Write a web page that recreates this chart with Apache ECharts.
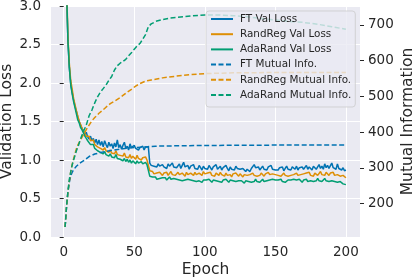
<!DOCTYPE html>
<html><head><meta charset="utf-8">
<script src="https://cdn.jsdelivr.net/npm/echarts@6/dist/echarts.min.js"></script>
<style>html,body{margin:0;padding:0;background:#fff}#c{width:415px;height:279px}</style>
</head><body><div id="c"></div>
<script>
const seriesNames = ['FT Val Loss','RandReg Val Loss','AdaRand Val Loss','FT Mutual Info.','RandReg Mutual Info.','AdaRand Mutual Info.'];
const xTicks = [0, 50, 100, 150, 200];
const miTicks = [200, 300, 400, 500, 600, 700];

const ftLoss = [4.8,3.2,2.55,2.2,1.98,1.88,1.78,1.7,1.63,1.56,
1.5,1.45,1.41,1.38,1.33,1.36,1.3,1.27,1.31,1.25,
1.28,1.22,1.27,1.2,1.26,1.19,1.24,1.17,1.25,1.2,
1.16,1.23,1.18,1.21,1.15,1.22,1.17,1.26,1.16,1.2,
1.14,1.19,1.23,1.15,1.18,1.13,1.21,1.16,1.14,1.19,
1.15,1.17,1.13,1.16,1.14,1.18,1.13,1.17,1.15,1.17,
0.96,0.93,0.95,0.92,0.94,0.91,0.95,0.92,0.9,0.94,
0.91,0.93,0.89,0.95,0.92,0.9,0.96,0.91,0.93,0.9,
0.92,0.95,0.89,0.93,0.97,0.91,0.9,0.93,0.88,0.92,
0.9,0.94,0.89,0.91,0.88,0.93,0.9,0.87,0.92,0.89,
0.91,0.88,0.93,0.9,0.87,0.91,0.89,0.94,0.88,0.9,
0.92,0.87,0.9,0.88,0.93,0.89,0.86,0.91,0.88,0.9,
0.87,0.92,0.89,0.9,0.88,0.86,0.89,0.87,0.85,0.88,
0.86,0.85,0.89,0.91,0.94,0.9,0.88,0.91,0.87,0.89,
0.92,0.88,0.9,0.87,0.91,0.89,0.93,0.88,0.9,0.87,
0.89,0.87,0.9,0.88,0.91,0.86,0.89,0.92,0.88,0.9,
0.87,0.91,0.89,0.88,0.92,0.87,0.9,0.89,0.91,0.88,
0.9,0.93,0.88,0.91,0.89,0.87,0.92,0.9,0.88,0.91,
0.94,0.89,0.92,0.88,0.95,0.9,0.93,0.89,0.91,0.96,
0.9,0.92,0.88,0.95,0.89,0.91,0.87,0.9,0.86,0.87];

const randRegLoss = [4.8,3.3,2.6,2.25,2.03,1.92,1.8,1.72,1.64,1.57,
1.5,1.46,1.41,1.37,1.35,1.31,1.29,1.31,1.25,1.23,
1.26,1.2,1.21,1.17,1.19,1.15,1.17,1.13,1.16,1.12,
1.14,1.1,1.13,1.09,1.11,1.08,1.12,1.07,1.09,1.06,
1.08,1.05,1.09,1.04,1.06,1.03,1.07,1.02,1.05,1.03,
1.01,1.06,1.02,1.04,1.0,1.03,1.01,1.04,1.0,1.02,
0.86,0.84,0.85,0.82,0.84,0.83,0.81,0.84,0.82,0.8,
0.83,0.81,0.84,0.8,0.82,0.85,0.81,0.83,0.8,0.82,
0.84,0.81,0.8,0.83,0.82,0.79,0.84,0.81,0.8,0.83,
0.82,0.8,0.84,0.81,0.79,0.83,0.81,0.8,0.85,0.82,
0.8,0.83,0.81,0.84,0.8,0.82,0.79,0.83,0.81,0.8,
0.84,0.81,0.82,0.79,0.83,0.8,0.82,0.81,0.78,0.82,
0.8,0.83,0.81,0.79,0.82,0.8,0.78,0.81,0.79,0.8,
0.78,0.81,0.79,0.83,0.8,0.82,0.79,0.81,0.8,0.83,
0.81,0.79,0.82,0.8,0.84,0.81,0.79,0.82,0.8,0.81,
0.83,0.8,0.82,0.79,0.81,0.83,0.8,0.82,0.79,0.81,
0.8,0.82,0.81,0.79,0.83,0.8,0.82,0.81,0.79,0.82,
0.8,0.83,0.81,0.84,0.8,0.82,0.79,0.83,0.81,0.8,
0.82,0.85,0.81,0.83,0.8,0.84,0.82,0.8,0.83,0.81,
0.84,0.8,0.82,0.81,0.83,0.79,0.81,0.8,0.78,0.77];

const adaRandLoss = [4.8,3.25,2.55,2.2,1.98,1.86,1.76,1.68,1.6,1.52,
1.48,1.42,1.39,1.35,1.31,1.28,1.25,1.23,1.2,1.18,
1.2,1.15,1.16,1.12,1.14,1.1,1.12,1.08,1.11,1.07,
1.09,1.05,1.08,1.04,1.06,1.03,1.07,1.02,1.04,1.01,
1.03,0.99,1.02,0.98,1.01,0.97,1.0,0.96,0.99,0.97,
0.95,0.99,0.96,0.94,0.98,0.95,0.93,0.97,0.94,0.96,
0.79,0.77,0.78,0.76,0.78,0.75,0.77,0.76,0.74,0.77,
0.75,0.77,0.74,0.76,0.78,0.75,0.73,0.76,0.74,0.75,
0.77,0.74,0.76,0.73,0.75,0.74,0.72,0.75,0.73,0.74,
0.76,0.73,0.75,0.72,0.74,0.73,0.75,0.71,0.74,0.72,
0.74,0.72,0.75,0.73,0.71,0.74,0.72,0.73,0.75,0.72,
0.73,0.71,0.74,0.72,0.75,0.73,0.71,0.74,0.72,0.73,
0.74,0.72,0.7,0.73,0.71,0.73,0.72,0.7,0.73,0.71,
0.72,0.74,0.71,0.73,0.72,0.75,0.72,0.74,0.71,0.73,
0.75,0.72,0.74,0.73,0.71,0.74,0.72,0.75,0.73,0.74,
0.72,0.74,0.73,0.75,0.72,0.74,0.71,0.73,0.74,0.72,
0.74,0.72,0.75,0.73,0.74,0.72,0.75,0.73,0.71,0.74,
0.73,0.75,0.72,0.74,0.73,0.75,0.72,0.74,0.73,0.76,
0.73,0.75,0.72,0.74,0.76,0.73,0.75,0.72,0.74,0.73,
0.75,0.72,0.74,0.71,0.73,0.72,0.7,0.69,0.71,0.68];

const ftMI = [[1,135],[2,190],[3,232],[4,260],[5,278],[6,288],[7,295],[8,300],[9,305],[10,309],[12,315],[15,323],[18,332],[22,339],[28,345],[35,350],[42,354],[50,357],[58,359],[65,361],[80,362],[100,363],[150,364],[200,364]];
const randRegMI = [[1,135],[2,192],[3,233],[4,263],[5,290],[6,310],[7,325],[8,340],[9,354],[10,364],[12,379],[14,393],[16,407],[18,420],[20,432],[22,441],[25,453],[28,463],[30,470],[33,480],[36,487],[40,497],[42,503],[45,512],[48,520],[51,529],[54,536],[58,543],[62,546],[66,549],[70,552],[80,557],[90,561],[100,564],[120,566],[150,567],[200,567]];
const adaRandMI = [[1,135],[2,192],[3,235],[4,268],[5,290],[6,308],[7,322],[8,335],[9,348],[10,358],[12,382],[14,402],[16,420],[18,446],[20,462],[22,482],[24,499],[26,512],[28,522],[30,532],[32,545],[34,556],[36,574],[38,586],[40,593],[42,598],[44,604],[46,614],[48,622],[50,632],[52,641],[54,648],[56,660],[58,673],[60,695],[62,703],[64,707],[66,711],[70,715],[75,719],[80,721],[90,725],[100,728],[110,728],[120,726],[130,723],[140,718],[150,714],[160,710],[170,707],[180,702],[190,695],[200,688]];

const colors = ['#0173B2', '#DE8F05', '#029E73'];
const txt = '#262626';
const font = 'DejaVu Sans';

function withEpochs(vals) { return vals.map((v, i) => [i + 1, v]); }

const solid = (name, data, c) => ({
  name, type: 'line', yAxisIndex: 0, data: withEpochs(data), symbol: 'none',
  lineStyle: { color: c, width: 1.5 }, itemStyle: { color: c }, z: 2, clip: true
});
const dashed = (name, data, c) => ({
  name, type: 'line', yAxisIndex: 1, data, symbol: 'none',
  lineStyle: { color: c, width: 1.5, type: [5, 2.5] }, itemStyle: { color: c }, z: 3, clip: true
});

const chart = echarts.init(document.getElementById('c'), null, { renderer: 'canvas' });
chart.setOption({
  animation: false,
  backgroundColor: '#ffffff',
  textStyle: { fontFamily: font },
  grid: { left: 51, right: 55, top: 6, bottom: 42, show: true, backgroundColor: '#EAEAF2', borderWidth: 0, outerBoundsMode: 'none', containLabel: false },
  xAxis: {
    type: 'value', min: -9, max: 210,
    axisLine: { show: false },
    axisTick: { show: false, customValues: xTicks },
    axisLabel: { customValues: xTicks, color: txt, fontSize: 13.5, fontFamily: font, margin: 8 },
    splitLine: { show: true, lineStyle: { color: '#ffffff', width: 1 } },
    name: 'Epoch', nameLocation: 'middle', nameGap: 25, nameMoveOverlap: false,
    nameTextStyle: { color: txt, fontSize: 15.5, fontFamily: font }
  },
  yAxis: [{
    type: 'value', min: 0, max: 3, interval: 0.5, position: 'left',
    axisLine: { show: false },
    axisTick: { show: true, length: 4, lineStyle: { color: txt } },
    axisLabel: { color: txt, fontSize: 13.5, fontFamily: font, margin: 10, formatter: v => v.toFixed(1) },
    splitLine: { show: true, lineStyle: { color: '#ffffff', width: 1 } },
    name: 'Validation Loss', nameLocation: 'middle', nameGap: 36, nameRotate: 90, nameMoveOverlap: false,
    nameTextStyle: { color: txt, fontSize: 15.5, fontFamily: font }
  }, {
    type: 'value', min: 107, max: 753, position: 'right',
    axisLine: { show: false },
    axisTick: { show: true, length: 4, customValues: miTicks, lineStyle: { color: txt } },
    axisLabel: { customValues: miTicks, color: txt, fontSize: 13.5, fontFamily: font, margin: 8 },
    splitLine: { show: false },
    name: 'Mutual Information', nameLocation: 'middle', nameGap: 40, nameRotate: 90, nameMoveOverlap: false,
    nameTextStyle: { color: txt, fontSize: 15.5, fontFamily: font }
  }],
  legend: {
    orient: 'vertical', left: 206, top: 11,
    data: seriesNames,
    itemWidth: 22, itemHeight: 10, itemGap: 3.2,
    padding: [2, 4, 6, 4],
    itemStyle: { opacity: 0 },
    backgroundColor: 'rgba(234,234,242,0.8)', borderColor: 'rgba(204,204,204,0.8)', borderWidth: 1, borderRadius: 3,
    textStyle: { color: txt, fontSize: 10.4, fontFamily: font, lineHeight: 12, padding: [0, 0, 0, 2] }
  },
  series: [
    solid(seriesNames[0], ftLoss, colors[0]),
    solid(seriesNames[1], randRegLoss, colors[1]),
    solid(seriesNames[2], adaRandLoss, colors[2]),
    dashed(seriesNames[3], ftMI, colors[0]),
    dashed(seriesNames[4], randRegMI, colors[1]),
    dashed(seriesNames[5], adaRandMI, colors[2])
  ]
});
</script></body></html>
